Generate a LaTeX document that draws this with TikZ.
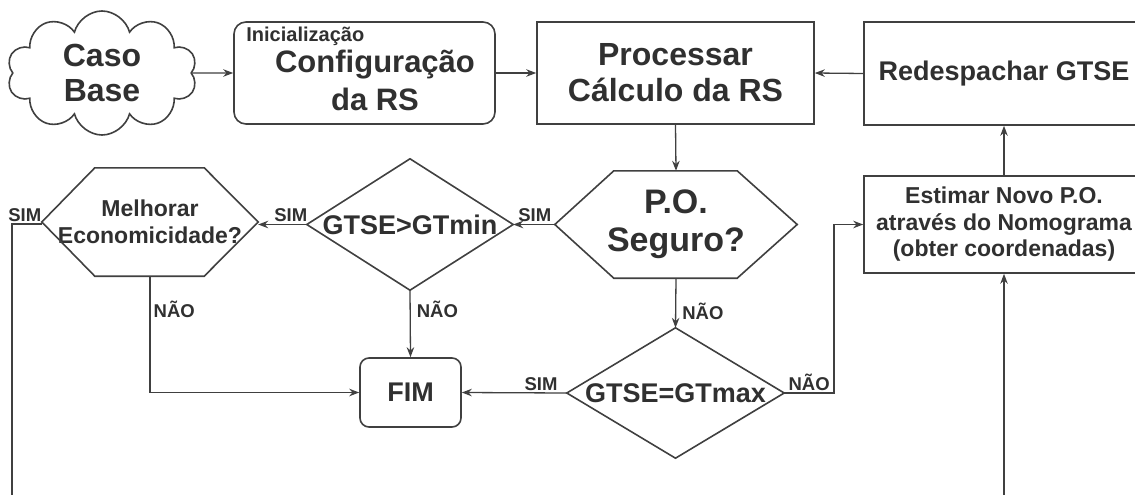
\documentclass[tikz,border=0pt]{standalone}
\usepackage{fontspec}
\setmainfont{Liberation Sans}
\usetikzlibrary{shapes.symbols,calc,arrows.meta}
\definecolor{ln}{HTML}{404040}
\definecolor{tx}{HTML}{303030}
\tikzset{
  box/.style={draw=ln, line width=1.6pt, fill=white, inner sep=0pt, text=tx, align=center},
  plain/.style={inner sep=0pt, text=tx, align=center},
  conn/.style={draw=ln, line width=1.3pt, -{Stealth[length=10pt,width=7.5pt]}},
  wire/.style={draw=ln, line width=1.3pt},
  outline/.style={draw=ln, line width=1.6pt, line join=miter},
  lbl/.style={text=tx, font=\fontsize{18.5}{20}\selectfont\bfseries, inner sep=2pt},
  fbig/.style={font=\fontsize{32}{36}\selectfont\bfseries},
  fmid/.style={font=\fontsize{27}{31}\selectfont\bfseries},
  fsmall/.style={font=\fontsize{23}{26.5}\selectfont\bfseries},
}
\begin{document}
\begin{tikzpicture}[x=1pt,y=-1pt]
\useasboundingbox (0,0) rectangle (1135,495);
\fill[white] (0,0) rectangle (1135,495);
\clip (0,0) rectangle (1135,495);

% top row
\node[cloud, cloud puffs=10, cloud ignores aspect, minimum width=190pt, minimum height=124pt,
      draw=ln, line width=1.6pt, inner sep=0pt, text=tx, align=center,
      font=\fontsize{32}{35}\selectfont\bfseries] (cloud) at (102,73) {Caso\\Base};
\node[box, rounded corners=12pt, minimum width=261pt, minimum height=102pt] (config) at (364.5,73) {};
\node[plain, font=\fontsize{31}{38}\selectfont\bfseries] (configtxt) at (375,80) {Configuração\\da RS};
\node[plain, anchor=base west, font=\fontsize{20}{22}\selectfont\bfseries] (init) at ($(config.north west)+(13,20)$) {Inicialização};
\node[box, fbig, minimum width=277pt, minimum height=102pt] (proc) at (675.5,73) {Processar\\Cálculo da RS};
\node[box, fmid, minimum width=280pt, minimum height=103pt] (redesp) at (1004,73.5) {Redespachar GTSE};

% middle row
\node[plain, font=\fontsize{34}{38}\selectfont\bfseries, minimum width=242pt, minimum height=107pt] (po) at (676,224.5) {P.O.\\Seguro?};
\draw[outline] (po.west) -- ($(po.north west)+(59,0)$) -- ($(po.north east)+(-60,0)$) -- (po.east)
  -- ($(po.south east)+(-60,0)$) -- ($(po.south west)+(59,0)$) -- cycle;
\node[plain, fmid, minimum width=206pt, minimum height=131pt] (gtmin) at (410,224.5) {GTSE>GTmin};
\draw[outline] (gtmin.north) -- (gtmin.east) -- (gtmin.south) -- (gtmin.west) -- cycle;
\node[plain, font=\fontsize{23}{27}\selectfont\bfseries, minimum width=216pt, minimum height=108pt] (melhor) at (150,222) {Melhorar\\Economicidade?};
\draw[outline] (melhor.west) -- ($(melhor.north west)+(53,0)$) -- ($(melhor.north east)+(-54,0)$) -- (melhor.east)
  -- ($(melhor.south east)+(-54,0)$) -- ($(melhor.south west)+(53,0)$) -- cycle;
\node[box, fsmall, minimum width=280pt, minimum height=97pt] (estimar) at (1004,224.5) {Estimar Novo P.O.\\através do Nomograma\\(obter coordenadas)};

% bottom row
\node[box, fmid, rounded corners=9pt, minimum width=101pt, minimum height=69pt] (fim) at (410.5,392.5) {FIM};
\node[plain, fmid, minimum width=217pt, minimum height=130pt] (gtmax) at (675.5,393) {GTSE=GTmax};
\draw[outline] (gtmax.north) -- (gtmax.east) -- (gtmax.south) -- (gtmax.west) -- cycle;

% free ends
\coordinate (mleft) at (12,224);
\coordinate (mbottom) at (12,500);
\coordinate (ebottom) at (1004,500);
\coordinate (nturn) at (834,393);

% connectors
\draw[conn] (cloud.east) -- (config.west);
\draw[conn] (config.east) -- (proc.west);
\draw[conn] (redesp.west) -- (proc.east);
\draw[conn] (proc.south) -- (po.north);
\draw[conn] (po.west) -- node[lbl, above, pos=0.48] (s1) {SIM} (gtmin.east);
\draw[conn] (gtmin.west) -- node[lbl, above, pos=0.33] (s2) {SIM} (melhor.east |- gtmin.west);
\draw[wire] (melhor.west |- mleft) -- node[lbl, above, pos=0.57] (s3) {SIM} (mleft) -- (mbottom);
\draw[conn] (melhor.south) |- node[lbl, right, pos=0.143, inner xsep=3pt] (n1) {NÃO} (fim.west);
\draw[conn] (gtmin.south) -- node[lbl, right, pos=0.29, inner xsep=6pt] (n2) {NÃO} (fim.north);
\draw[conn] (po.south) -- node[lbl, right, pos=0.66, inner xsep=6pt] (n3) {NÃO} (gtmax.north);
\draw[conn] (gtmax.west) -- node[lbl, above, pos=0.245] (s4) {SIM} (fim.east);
\draw[conn] (gtmax.east) -- node[lbl, above, pos=0.5] (n4) {NÃO} (nturn) |- (estimar.west);
\draw[conn] (ebottom) -- (estimar.south);
\draw[conn] (estimar.north) -- (redesp.south);
\end{tikzpicture}
\end{document}
